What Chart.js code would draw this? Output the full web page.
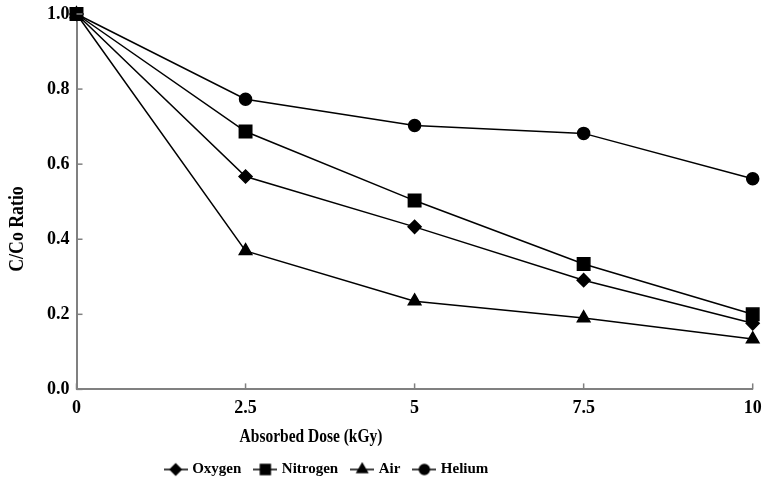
<!DOCTYPE html>
<html>
<head>
<meta charset="utf-8">
<script src="https://cdn.jsdelivr.net/npm/chart.js@4"></script>
<style>
  body { margin: 0; background: #fff; }
  #wrap { width: 763px; height: 479px; }
</style>
</head>
<body>
<div id="wrap"><canvas id="myChart"></canvas></div>
<script>
var doses = [0, 2.5, 5, 7.5, 10];
var oxygen = [1.0, 0.567, 0.433, 0.291, 0.176];
var nitrogen = [1.0, 0.687, 0.503, 0.334, 0.200];
var air = [1.0, 0.369, 0.235, 0.190, 0.134];
var helium = [1.0, 0.773, 0.703, 0.682, 0.561];
var xTicks = [0, 2.5, 5, 7.5, 10];
var yTicks = [0, 0.2, 0.4, 0.6, 0.8, 1.0];

var xTitle = "Absorbed Dose (kGy)";
var yTitle = "C/Co Ratio";

var font = "'Liberation Serif', 'Times New Roman', serif";

function pts(vals) {
  return vals.map(function (v, i) { return { x: doses[i], y: v }; });
}

// little "line + marker" picture for the legend
function legendIcon(style, r) {
  var c = document.createElement("canvas");
  c.width = 24; c.height = 16;
  var g = c.getContext("2d");
  g.strokeStyle = "#000"; g.lineWidth = 1.5;
  g.beginPath(); g.moveTo(0, 8); g.lineTo(24, 8); g.stroke();
  g.fillStyle = "#000";
  Chart.helpers.drawPoint(g, { pointStyle: style, radius: r, borderWidth: 1 }, 12, 8);
  g.fill();
  return c;
}

// inward ticks + axis titles (the original has them off-centre)
var extras = {
  id: "extras",
  afterLayout: function (chart) {
    chart.legend.left -= 69;
    chart.legend.right -= 69;
    chart.legend.top += 20;
    chart.legend.bottom += 20;
  },
  afterDraw: function (chart) {
    var ctx = chart.ctx, xs = chart.scales.x, ys = chart.scales.y;
    var a = chart.chartArea;
    ctx.save();
    ctx.strokeStyle = "#808080"; ctx.lineWidth = 1.5;
    xTicks.forEach(function (t) {
      var px = xs.getPixelForValue(t);
      ctx.beginPath(); ctx.moveTo(px, a.bottom); ctx.lineTo(px, a.bottom - 6); ctx.stroke();
    });
    yTicks.forEach(function (t) {
      var py = ys.getPixelForValue(t);
      ctx.beginPath(); ctx.moveTo(a.left, py); ctx.lineTo(a.left + 6, py); ctx.stroke();
    });
    ctx.fillStyle = "#000";
    ctx.textAlign = "center";
    ctx.textBaseline = "middle";
    ctx.save();
    ctx.translate(311, 437);
    ctx.scale(0.86, 1);
    ctx.font = "bold 18px " + font;
    ctx.fillText(xTitle, 0, 0);
    ctx.restore();
    ctx.translate(18, 229);
    ctx.rotate(-Math.PI / 2);
    ctx.scale(0.89, 1);
    ctx.font = "bold 20px " + font;
    ctx.fillText(yTitle, 0, 0);
    ctx.restore();
  }
};

function ds(label, vals, style, r, order) {
  return {
    label: label,
    data: pts(vals),
    borderColor: "#000",
    backgroundColor: "#000",
    borderWidth: 1.5,
    pointStyle: style,
    pointRadius: r,
    pointHoverRadius: r,
    pointBackgroundColor: "#000",
    pointBorderColor: "#000",
    order: order,
    clip: false
  };
}

new Chart("myChart", {
  type: "line",
  data: {
    datasets: [
      ds("Oxygen", oxygen, "rectRot", 6.5, 2),
      ds("Nitrogen", nitrogen, "rect", 8.8, 1),
      ds("Air", air, "triangle", 7.2, 3),
      ds("Helium", helium, "circle", 6, 4)
    ]
  },
  options: {
    responsive: true,
    maintainAspectRatio: false,
    animation: false,
    layout: { padding: { top: 14, right: 10, left: 40, bottom: 12 } },
    plugins: {
      tooltip: { enabled: false },
      legend: {
        position: "bottom",
        labels: {
          usePointStyle: true,
          pointStyleWidth: 18,
          color: "#000",
          font: { family: font, size: 15, weight: "bold" },
          padding: 15,
          generateLabels: function (chart) {
            var sizes = [5.5, 7, 6, 5];
            return chart.data.datasets.map(function (d, i) {
              return {
                text: d.label,
                pointStyle: legendIcon(d.pointStyle, sizes[i]),
                fillStyle: "#000",
                strokeStyle: "#000",
                fontColor: "#000",
                lineWidth: 0,
                datasetIndex: i
              };
            });
          }
        }
      }
    },
    scales: {
      x: {
        type: "linear",
        min: 0, max: 10,
        afterBuildTicks: function (s) { s.ticks = xTicks.map(function (v) { return { value: v }; }); },
        afterFit: function (s) { s.paddingLeft = 0; s.paddingRight = 0; },
        grid: { display: false, drawTicks: false },
        border: { color: "#808080", width: 2 },
        ticks: {
          color: "#000",
          padding: 8,
          font: { family: font, size: 18, weight: "bold" },
          callback: function (v) { return String(v); }
        }
      },
      y: {
        min: 0, max: 1,
        afterBuildTicks: function (s) { s.ticks = yTicks.map(function (v) { return { value: v }; }); },
        afterFit: function (s) { s.paddingTop = 0; s.paddingBottom = 0; },
        ticks: {
          color: "#000",
          padding: 7,
          font: { family: font, size: 18, weight: "bold" },
          callback: function (v) { return v.toFixed(1); }
        },
        grid: { display: false, drawTicks: false },
        border: { color: "#808080", width: 2 }
      }
    }
  },
  plugins: [extras]
});
</script>
</body>
</html>
